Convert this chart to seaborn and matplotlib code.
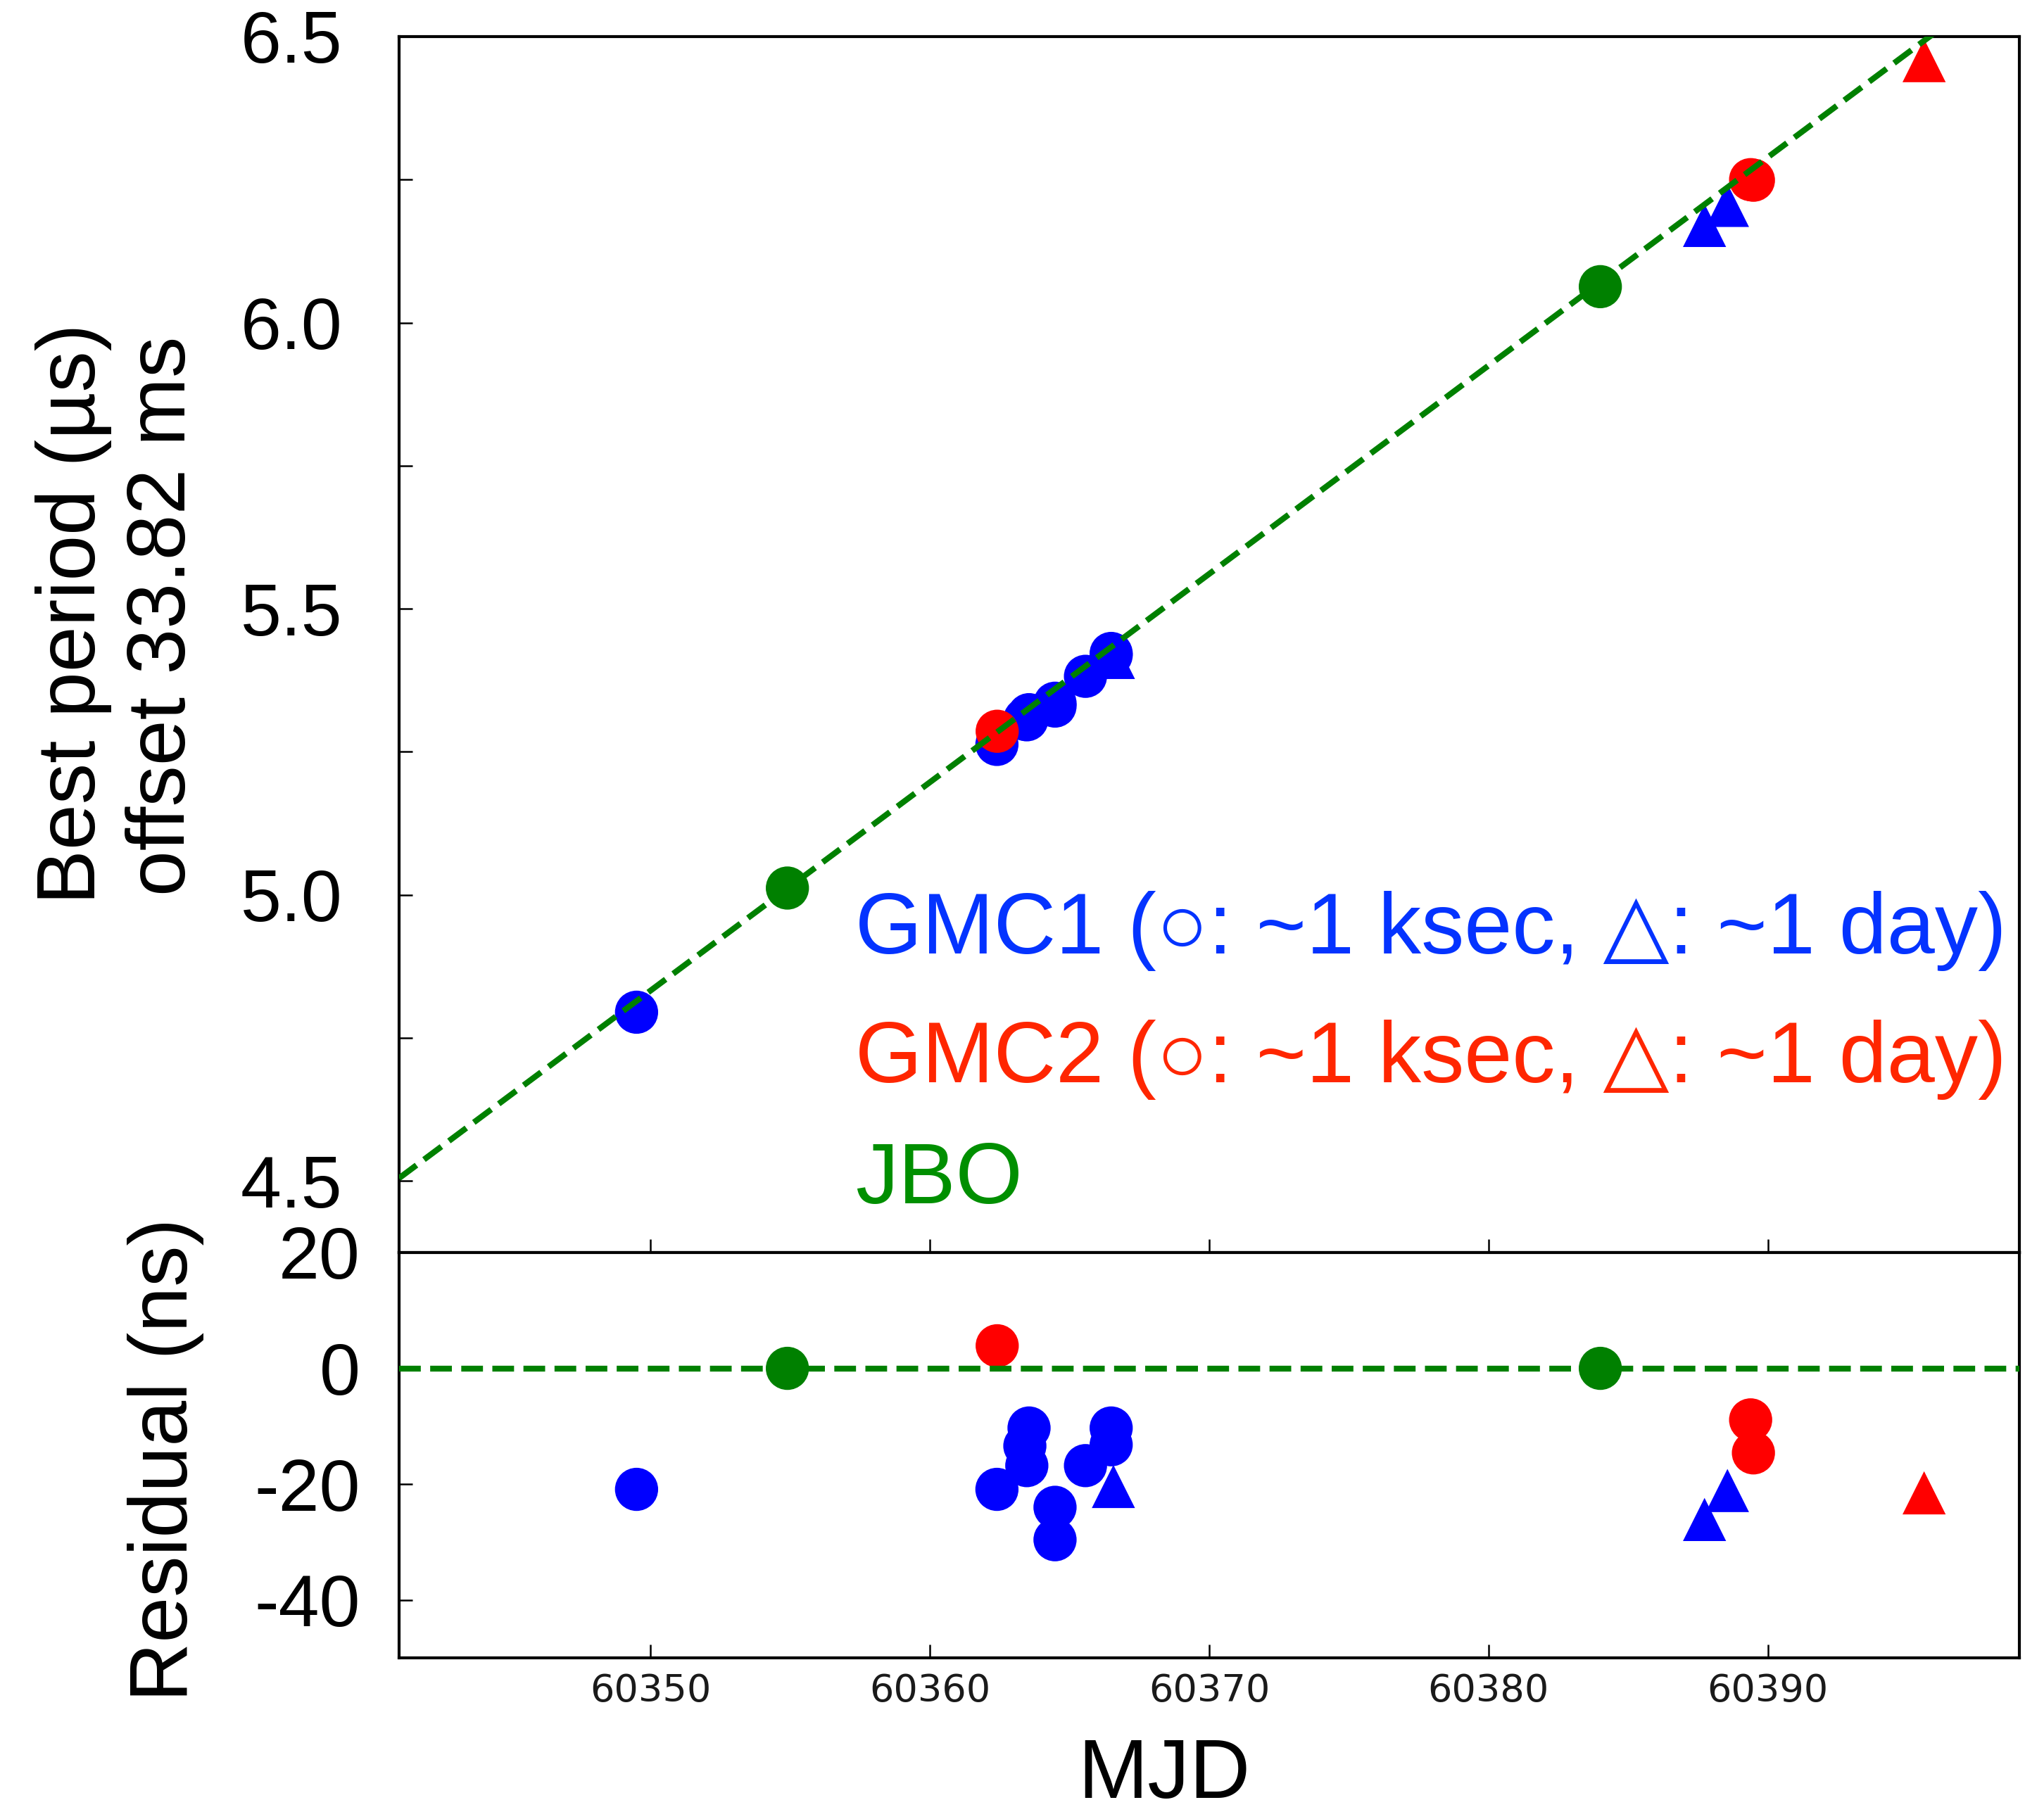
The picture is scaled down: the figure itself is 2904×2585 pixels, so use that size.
import numpy as np
import pandas as pd
import matplotlib
matplotlib.use("Agg")
import matplotlib.pyplot as plt
import seaborn as sns

# ---------------- data ----------------
gmc1_circle_mjd = [60349.5, 60362.4, 60363.55, 60363.4, 60363.47, 60364.48, 60364.48, 60365.57, 60366.49, 60366.49]
gmc1_circle_period = [4.795, 5.263, 5.315, 5.307, 5.306, 5.335, 5.330, 5.382, 5.422, 5.419]
gmc1_circle_resid = [-20.9, -20.9, -10.3, -13.4, -16.8, -24.0, -29.6, -16.8, -10.3, -13.2]

gmc1_tri_mjd = [60366.57, 60387.73, 60388.55]
gmc1_tri_period = [5.415, 6.170, 6.205]
gmc1_tri_resid = [-20.4, -26.1, -21.1]

gmc2_circle_mjd = [60362.41, 60389.38, 60389.48]
gmc2_circle_period = [5.286, 6.250, 6.249]
gmc2_circle_resid = [3.9, -8.9, -14.6]

gmc2_tri_mjd = [60395.59]
gmc2_tri_period = [6.458]
gmc2_tri_resid = [-21.5]

jbo_mjd = [60354.9, 60384.0]
jbo_period = [5.012, 6.063]
jbo_resid = [0.0, 0.0]

fit_mjd = [60341.0, 60399.0]
fit_period = [4.505, 6.617]
fit_resid = [0.0, 0.0]

xtick_vals = [60350, 60360, 60370, 60380, 60390]
xtick_labels = ["60350", "60360", "60370", "60380", "60390"]
ytick_top_vals = [4.5, 4.75, 5.0, 5.25, 5.5, 5.75, 6.0, 6.25, 6.5]
ytick_top_labels = ["4.5", "", "5.0", "", "5.5", "", "6.0", "", "6.5"]
ytick_bot_vals = [-40, -20, 0, 20]
ytick_bot_labels = ["-40", "-20", "0", "20"]

legend_lines = ["GMC1 (\u25cb: ~1 ksec, \u25b3: ~1 day)",
                "GMC2 (\u25cb: ~1 ksec, \u25b3: ~1 day)",
                "JBO"]
legend_colors = ["#0433FF", "#FF2600", "#008F00"]

# ---------------- table ----------------
def block(mjd, per, res, group, shape):
    return pd.DataFrame({"mjd": mjd, "period": per, "resid": res,
                         "group": group, "shape": shape})

df = pd.concat([
    block(gmc1_circle_mjd, gmc1_circle_period, gmc1_circle_resid, "GMC1", "circle"),
    block(gmc1_tri_mjd, gmc1_tri_period, gmc1_tri_resid, "GMC1", "triangle"),
    block(jbo_mjd, jbo_period, jbo_resid, "JBO", "circle"),
    block(gmc2_circle_mjd, gmc2_circle_period, gmc2_circle_resid, "GMC2", "circle"),
    block(gmc2_tri_mjd, gmc2_tri_period, gmc2_tri_resid, "GMC2", "triangle"),
], ignore_index=True)

palette = {"GMC1": "#0000FF", "GMC2": "#FF0000", "JBO": "#008000"}
markers = {"circle": "o", "triangle": "^"}

sns.set_theme(style="white")
plt.rcParams["font.family"] = ["Liberation Sans", "DejaVu Sans"]

W, H = 2904, 2585
fig = plt.figure(figsize=(W / 100, H / 100), dpi=100)
fig.patch.set_facecolor("white")

L = 567 / W
R = 2869 / W
y_top = 1 - 52 / H
y_mid = 1 - 1780 / H
y_bot = 1 - 2356 / H
ax1 = fig.add_axes([L, y_mid, R - L, y_top - y_mid])
ax2 = fig.add_axes([L, y_bot, R - L, y_mid - y_bot])

MS = 1950
for ax, ycol in ((ax1, "period"), (ax2, "resid")):
    sns.scatterplot(data=df, x="mjd", y=ycol, hue="group", style="shape",
                    palette=palette, markers=markers, s=MS, linewidth=0,
                    legend=False, ax=ax, zorder=2)

sns.lineplot(x=fit_mjd, y=fit_period, ax=ax1, color="#008000",
             linestyle="--", linewidth=6.0, zorder=3)
sns.lineplot(x=fit_mjd, y=fit_resid, ax=ax2, color="#008000",
             linestyle="--", linewidth=6.0, zorder=3)

ax1.set_xlim(60341, 60399)
ax2.set_xlim(60341, 60399)
ax1.set_ylim(4.375, 6.5)
ax2.set_ylim(-50, 20)

for ax in (ax1, ax2):
    ax.set_xlabel("")
    ax.set_ylabel("")
    for sp in ax.spines.values():
        sp.set_visible(True)
        sp.set_color("black")
        sp.set_linewidth(3.0)
    ax.set_facecolor("white")

ax1.set_xticks(xtick_vals, labels=[""] * len(xtick_vals))
ax1.tick_params(axis="x", direction="in", length=14, width=1.8,
                bottom=True, labelbottom=False, color="black")
ax1.set_yticks(ytick_top_vals, labels=ytick_top_labels,
               fontfamily="Liberation Sans", fontsize=75)
ax1.tick_params(axis="y", direction="in", length=14, width=1.8,
                left=True, pad=58, color="black", labelcolor="black")

ax2.set_xticks(xtick_vals, labels=xtick_labels,
               fontfamily="DejaVu Sans", fontsize=39)
ax2.tick_params(axis="x", direction="in", length=14, width=1.8,
                bottom=True, pad=15, color="black", labelcolor="#1a1a1a")
ax2.set_yticks(ytick_bot_vals, labels=ytick_bot_labels,
               fontfamily="Liberation Sans", fontsize=75)
ax2.tick_params(axis="y", direction="in", length=14, width=1.8,
                left=True, pad=40, color="black", labelcolor="black")

# axis labels
fig.text(105 / W, 1 - 872 / H, "Best period (\u00b5s)", rotation=90,
         ha="center", va="center", fontsize=84, color="black")
fig.text(232 / W, 1 - 875 / H, "offset 33.82 ms", rotation=90,
         ha="center", va="center", fontsize=84, color="black")
fig.text(236 / W, 1 - 2074 / H, "Residual (ns)", rotation=90,
         ha="center", va="center", fontsize=84, color="black")
fig.text(1654 / W, 30 / H, "MJD", ha="center", va="baseline",
         fontsize=86, color="black")

# legend-like text
baselines = [1355, 1538, 1710]
for txt, col, b in zip(legend_lines, legend_colors, baselines):
    fig.text(1215 / W, 1 - b / H, txt, ha="left", va="baseline",
             fontsize=88, color=col,
             family=["Liberation Sans", "DejaVu Sans"])

fig.savefig("out.png", dpi=100, facecolor="white")
